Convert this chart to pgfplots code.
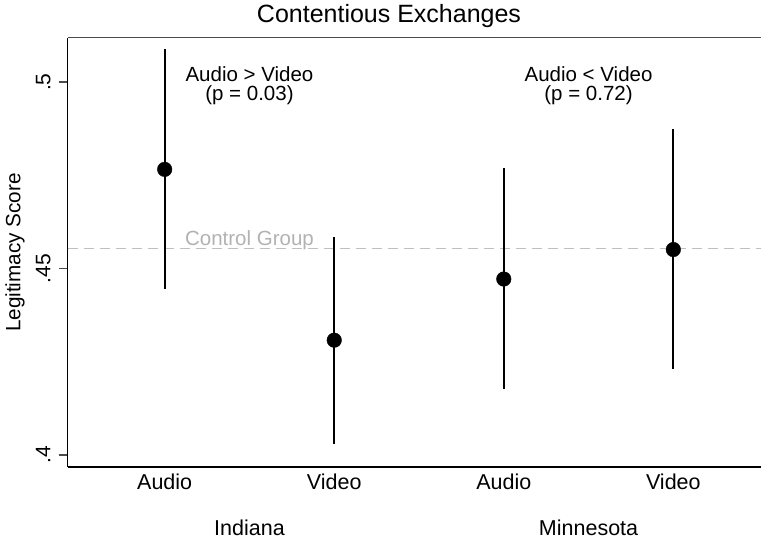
\documentclass[border=0pt]{standalone}
\usepackage{pgfplots}
\pgfplotsset{compat=1.18}
\usepackage{pgfplotstable}
\usepackage{fontspec}
\setmainfont{Liberation Sans}

\pgfplotstableread{
x   y       ep      em
1   0.4766  0.0322  0.0322
2   0.4308  0.0277  0.0277
3   0.4472  0.0297  0.0295
4   0.4551  0.0322  0.0321
}\pointdata

\begin{document}
\begin{tikzpicture}
\begin{axis}[
  at={(67.7pt,-467pt)}, anchor=south west,
  scale only axis,
  width=693.3pt, height=429.3pt,
  xmin=0.428, xmax=4.517,
  ymin=0.3968, ymax=0.5119,
  axis x line=bottom, axis y line=left,
  axis line style={-, line width=1.6pt, black},
  xtick={1,2,3,4},
  xticklabels={Audio,Video,Audio,Video},
  xtick style={draw=none},
  xticklabel style={font=\fontsize{21.5}{24}\selectfont, anchor=north, inner sep=0pt, yshift=2pt},
  ytick={0.4,0.45,0.5},
  yticklabels={.4,.45,.5},
  ytick style={line width=1.2pt, color=black!70},
  tick align=outside,
  major tick length=9pt,
  yticklabel style={font=\fontsize{21}{24}\selectfont, rotate=90, anchor=south, inner sep=0pt, yshift=8pt},
  clip=false,
]
\addplot[color=black!25, line width=1.6pt, dash pattern=on 10.7pt off 5.3pt] coordinates {(0.428,0.4554) (4.517,0.4554)};
\addplot[only marks, mark=*, mark size=7.3pt, color=black,
  error bars/.cd, y dir=both, y explicit, error mark=none,
  error bar style={line width=2pt, black}]
  table[x=x, y=y, y error plus=ep, y error minus=em] {\pointdata};
\node[anchor=base, text=black!30, font=\fontsize{20.5}{22}\selectfont] at (axis cs:1.5,0.4554) [yshift=2.5pt] {Control Group};
\node[anchor=north, align=center, font=\fontsize{20.5}{19}\selectfont] at (axis cs:1.5,0.5051) {Audio > Video\\(p = 0.03)};
\node[anchor=north, align=center, font=\fontsize{20.5}{19}\selectfont] at (axis cs:3.5,0.5051) {Audio < Video\\(p = 0.72)};
\node[font=\fontsize{21.5}{24}\selectfont] at (axis cs:1.5,0.3968) [yshift=-61pt] {Indiana};
\node[font=\fontsize{21.5}{24}\selectfont] at (axis cs:3.5,0.3968) [yshift=-61pt] {Minnesota};
\draw[line width=1.4pt, black!70] (rel axis cs:0,1) -- (rel axis cs:1,1);
\end{axis}
\node[rotate=90, font=\fontsize{20.7}{24}\selectfont] at (15pt,-252.5pt) {Legitimacy Score};
\node[font=\fontsize{25}{28}\selectfont] at (389pt,-16pt) {Contentious Exchanges};
\pgfresetboundingbox
\path[use as bounding box] (0,0) rectangle (761pt,-542pt);
\end{tikzpicture}
\end{document}
